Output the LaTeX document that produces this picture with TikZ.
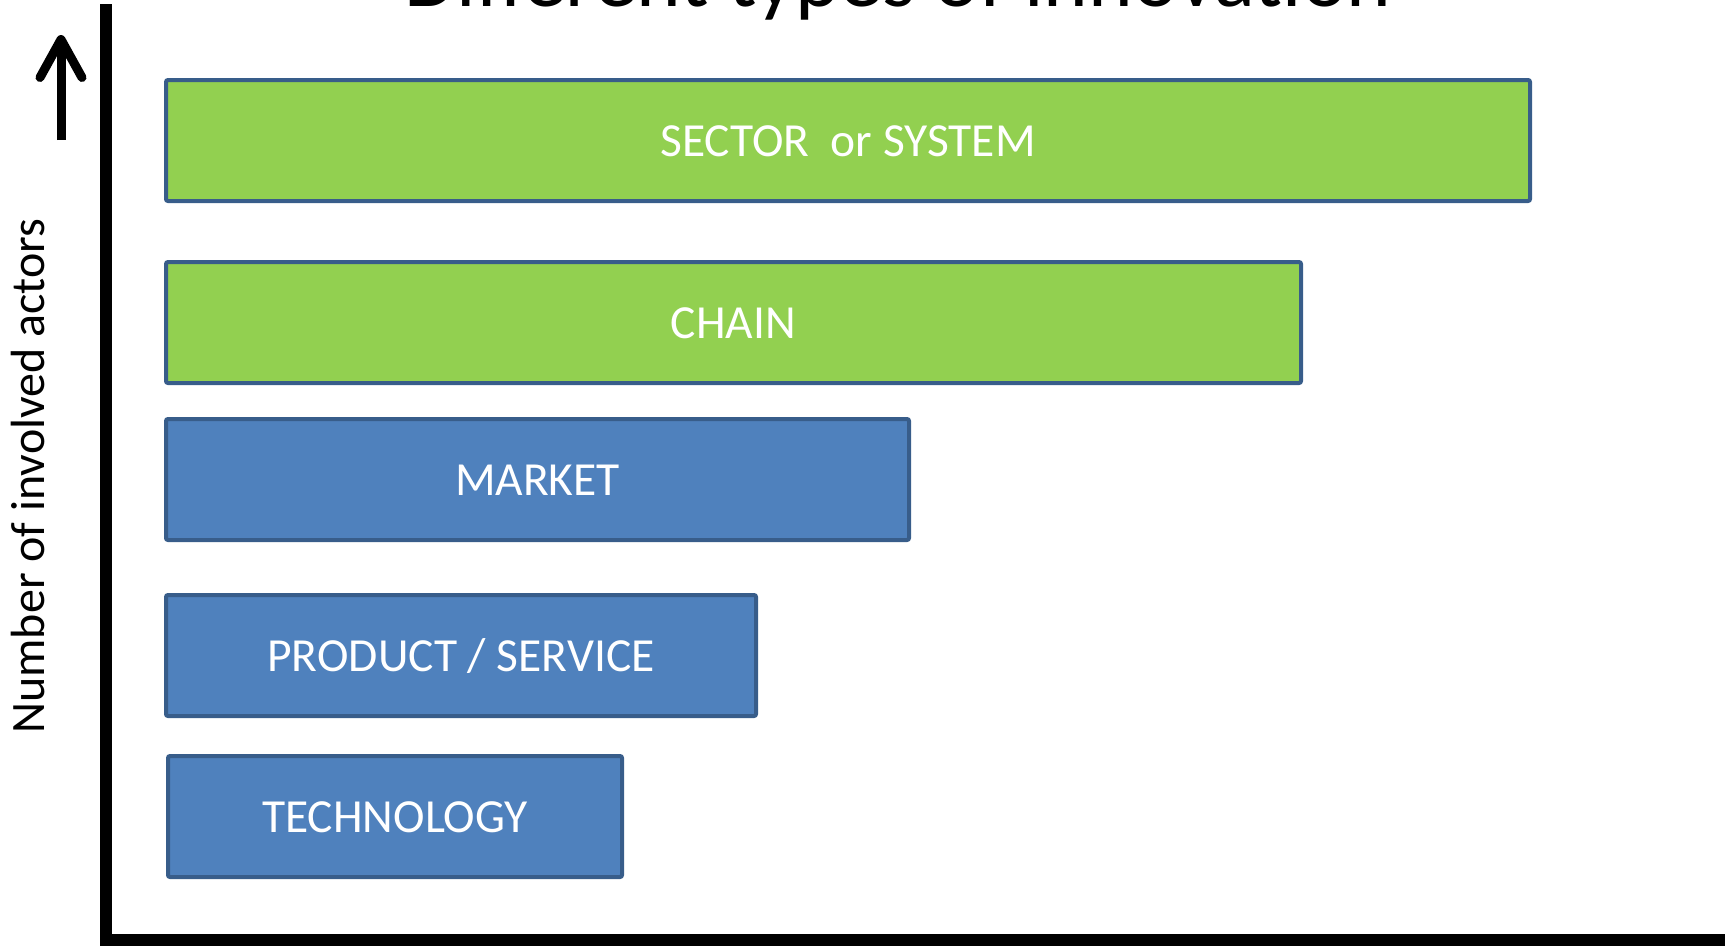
\documentclass[tikz,border=0pt]{standalone}
\usepackage{fontspec}
\setmainfont{Carlito}
\usetikzlibrary{arrows.meta}
\definecolor{sysgreen}{HTML}{92D050}
\definecolor{firmblue}{HTML}{4F81BD}
\definecolor{barline}{HTML}{385D8A}
\tikzset{
  bar/.style       = {shape=rectangle, draw=barline, line width=4pt,
                      rounded corners=2pt, anchor=north west, inner sep=0pt,
                      minimum height=121pt, text=white,
                      text height=32pt, text depth=0pt,
                      font=\fontsize{47.5}{56}\selectfont},
  sysbar/.style    = {bar, fill=sysgreen},
  firmbar/.style   = {bar, fill=firmblue},
  axisline/.style  = {line width=12pt},
  axislabel/.style = {font=\fontsize{48}{56}\selectfont},
  heading/.style   = {font=\fontsize{85}{96}\selectfont}
}
\begin{document}
\begin{tikzpicture}[x=1pt, y=-1pt]
  \clip (0,0) rectangle (1725,946);

  % title, only its lower part shows
  \node[heading, anchor=base] (title) at (898,6) {Different types of innovation};

  \coordinate (ytop)   at (106,4);
  \coordinate (corner) at (106,940);
  \coordinate (xend)   at (1725,940);
  \draw[axisline] (ytop) -- (corner) -- (xend);

  \coordinate (arrowtail) at (61,140);
  \coordinate (arrowtip)  at (61,35);
  \draw[line width=9pt, -{Straight Barb[length=38pt, width=42pt, round]}]
    (arrowtail) -- (arrowtip);

  \node[axislabel, rotate=90] (actors) at (28,476) {Number of involved actors};

  \node[sysbar,  minimum width=1364pt] (sector)  at (164,78)  {SECTOR\ \ or SYSTEM};
  \node[sysbar,  minimum width=1135pt] (chain)   at (164,260) {CHAIN};
  \node[firmbar, minimum width=743pt]  (market)  at (164,417) {MARKET};
  \node[firmbar, minimum width=590pt]  (product) at (164,593) {PRODUCT / SERVICE};
  \node[firmbar, minimum width=454pt]  (tech)    at (166,754) {TECHNOLOGY};
\end{tikzpicture}
\end{document}
